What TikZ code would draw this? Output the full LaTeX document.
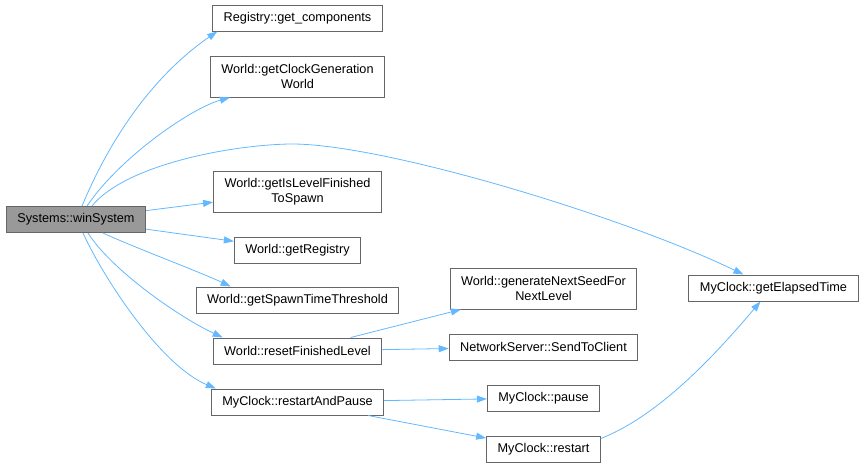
\documentclass[tikz,border=0pt]{standalone}
\usepackage{fontspec}
\setmainfont{Liberation Sans}
\usepackage{xcolor}
\usetikzlibrary{positioning,arrows.meta}

\definecolor{edgeblue}{HTML}{63B8FF}
\definecolor{boxgray}{HTML}{666666}
\definecolor{startgray}{HTML}{999999}

\begin{document}
\begin{tikzpicture}[x=1pt, y=1pt, node distance={24pt},
    main/.style = {draw=boxgray, line width=1pt, fill=white, rectangle, minimum height=26pt, inner xsep=11pt, inner ysep=2pt, align=center, font=\fontsize{12.7pt}{14.5pt}\selectfont},
    twoline/.style = {minimum height=41pt},
    root/.style = {main, fill=startgray},
    call/.style = {draw=edgeblue, line width=0.8pt, -{Triangle[length=10pt,width=7pt]}} ]
        \useasboundingbox (0,0) rectangle (864,-463);

        \node[root] (win) at (76,-219.5) {Systems::winSystem};

        \node[main] (comp) at (297.5,-18) {Registry::get\_components};
        \node[main, twoline] (clockgen) [below = of comp] {World::getClockGeneration\\World};
        \node[main, twoline] (lvlfin) [below = 73pt of clockgen] {World::getIsLevelFinished\\ToSpawn};
        \node[main] (reg) [below = of lvlfin] {World::getRegistry};
        \node[main] (spawn) [below = 23pt of reg] {World::getSpawnTimeThreshold};
        \node[main] (reset) [below = of spawn] {World::resetFinishedLevel};
        \node[main] (rap) [below = of reset] {MyClock::restartAndPause};

        \node[main, twoline] (seed) at (543.5,-288.5) {World::generateNextSeedFor\\NextLevel};
        \node[main] (send) [below = of seed] {NetworkServer::SendToClient};
        \node[main] (pause) [below = of send] {MyClock::pause};
        \node[main] (restart) [below = of pause] {MyClock::restart};

        \node[main] (elapsed) at (773.5,-288) {MyClock::getElapsedTime};

        \draw[call] ([xshift=6pt]win.north) .. controls (115,-127) and (161,-70) .. ([xshift=5pt]comp.south west);
        \draw[call] ([xshift=11pt]win.north) .. controls (121,-156) and (192,-108) .. ([xshift=20pt]clockgen.south west);
        \draw[call] ([xshift=16pt]win.north) .. controls (125,-165) and (230,-145) .. (290,-144)
            .. controls (380,-143) and (620,-215) .. ([xshift=55pt]elapsed.north west);
        \draw[call] (win) -- (lvlfin);
        \draw[call] (win) -- (reg);
        \draw[call] ([xshift=27pt]win.south) .. controls (133,-247) and (200,-272) .. ([xshift=35pt]spawn.north west);
        \draw[call] ([xshift=12pt]win.south) .. controls (110,-268) and (175,-315) .. ([xshift=10pt]reset.north west);
        \draw[call] ([xshift=7pt]win.south) .. controls (103,-277) and (160,-365) .. ([xshift=5pt]rap.north west);
        \draw[call] (reset) -- (seed);
        \draw[call] (reset) -- (send);
        \draw[call] (rap) -- (pause);
        \draw[call] (rap) -- (restart);
        \draw[call] ([yshift=-3pt]restart.north east) .. controls (660,-415) and (715,-355) .. ([xshift=72pt]elapsed.south west);

    \end{tikzpicture}
\end{document}
